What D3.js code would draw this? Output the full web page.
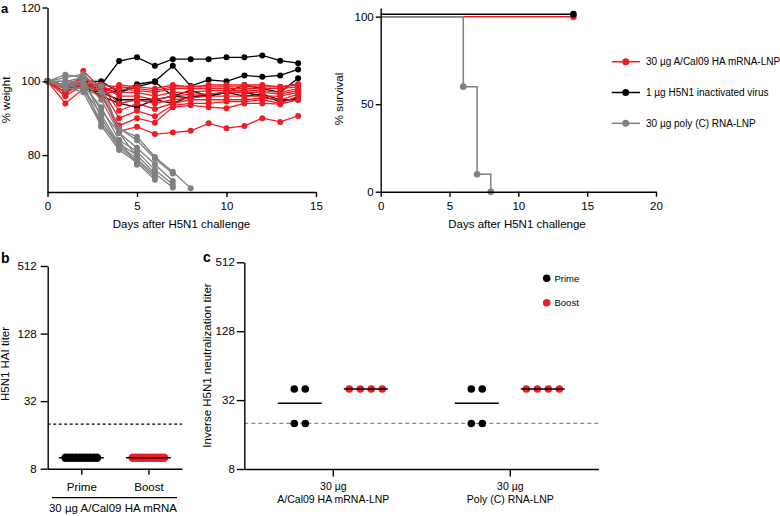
<!DOCTYPE html>
<html><head><meta charset="utf-8">
<script src="https://cdn.jsdelivr.net/npm/d3@7"></script>
<style>
body{margin:0;background:#fff;}
svg{display:block;font-family:"Liberation Sans",Arial,Helvetica,sans-serif;}
</style></head><body>
<svg id="chart" width="780" height="516"></svg>
<script>
// ---------- DATA ----------
const weightDays = [0,1,2,3,4,5,6,7,8,9,10,11,12,13,14];
// Panel a (left): % weight per mouse, 30 µg A/Cal09 HA mRNA-LNP
const weightMRNA = [
  [100, 97, 99, 97, 86.4, 87.7, 85.7, 86.1, 86.6, 88.6, 87.3, 87.9, 90, 89, 90.6],
  [100, 94, 98, 96, 88, 90, 88.8, 93, 93.5, 93, 92.7, 94, 94, 93.8, 95],
  [100, 96, 102.8, 98, 90, 92, 90.5, 93.5, 94, 94, 94.5, 94.5, 95, 94, 96],
  [100, 98, 101, 99, 92, 94, 92.5, 94, 95, 95, 95, 95, 95.5, 95, 96.5],
  [100, 99, 100, 98.5, 94, 95, 94, 95, 95.5, 96, 96, 96, 96, 96, 97],
  [100, 97, 99, 99, 96, 96, 95, 96, 96.5, 96.5, 97, 97, 97, 96.5, 97.5],
  [100, 98, 100, 97, 97, 97, 96, 97, 97, 97.5, 97.5, 97.5, 97.5, 97, 98],
  [100, 99, 101, 98, 98, 97.5, 97, 98, 98, 98, 98, 98, 98, 98, 98.5],
  [100, 96, 99, 99, 98.5, 98, 97.5, 98.5, 98.5, 98.5, 98.5, 98.5, 98.5, 98.5, 99],
  [100, 97, 100, 97, 99, 98.5, 98, 99, 98.5, 99, 99, 99, 99, 98.5, 99.3]
];
// 1 µg H5N1 inactivated virus
const weightInact = [
  [100, 99, 99, 99, 105.5, 106.5, 104.2, 106, 106, 106, 106.5, 106.5, 107, 105.6, 104.9],
  [100, 99, 100, 100, 97, 99.2, 100, 104.2, 98.7, 100.4, 100, 101.6, 101.2, 101.6, 103.2],
  [100, 98, 99, 98, 97, 98.5, 99.8, 96, 97.5, 96, 97, 99, 98, 97, 100.8],
  [100, 99, 98, 97, 95, 95, 95, 96, 95.5, 96.5, 97, 96, 96.5, 95, 95],
  [100, 98, 99, 96, 94, 93, 95, 94, 96, 96, 97, 97, 96, 94.5, 95.5]
];
// 30 µg poly (C) RNA-LNP
const weightPolyC = [
  [100, 101.8, 101, 98.7, 87, 85, 79.5, 75.5, 71],
  [100, 101, 102, 97, 87.3, 84, 79, 75],
  [100, 100, 100, 95, 86, 82, 77.5, 73],
  [100, 99, 99, 93, 84, 81, 76, 72],
  [100, 98, 98, 91, 83, 80, 75, 71.2],
  [100, 100, 101, 90, 82.5, 79, 74.5],
  [100, 99, 98, 89, 82, 78.5, 74],
  [100, 98.5, 97, 88, 81.4, 78, 73.3],
  [100, 100, 99.5, 87.7, 84, 77.4],
  [100, 99, 100, 92, 86, 79.5]
];
// Panel a (right): % survival
const survivalNames = ["30 µg A/Cal09 HA mRNA-LNP", "1 µg H5N1 inactivated virus", "30 µg poly (C) RNA-LNP"];
const survMRNADays = [0, 14];      const survMRNA = [100, 100];
const survInactDays = [0, 14];     const survInact = [100, 100];
const survPolyCDays = [0, 6, 7, 8]; const survPolyC = [100, 60, 10, 0];
// Panel b: H5N1 HAI titer
const haiGroups = ["Prime", "Boost"];
const haiPrime = [10,10,10,10,10,10,10,10,10,10];
const haiBoost = [10,10,10,10,10,10,10,10,10,10];
const haiLimit = 20;
// Panel c: inverse H5N1 neutralization titer
const neutGroups = ["30 µg|A/Cal09 HA mRNA-LNP", "30 µg|Poly (C) RNA-LNP"];
const neutPrime = [[40,40,20,20],[40,40,20,20]];
const neutBoost = [[40,40,40,40],[40,40,40,40]];
const neutLimit = 20;
const log2Ticks = [8, 32, 128, 512];

// ---------- STYLE ----------
const RED = "#ee1c25", BLACK = "#000", GRAY = "#808080";
const svg = d3.select("#chart");

function styleAxis(g, fs){
  g.selectAll("path.domain").attr("stroke","#000").attr("stroke-width",1.4);
  g.selectAll(".tick line").attr("stroke","#000").attr("stroke-width",1.4);
  g.selectAll(".tick text").attr("fill","#000").style("font-size",(fs||11.5)+"px")
    .style("font-family",'"Liberation Sans",Arial,sans-serif');
}
function label(txt, x, y, opts){
  opts = opts || {};
  const t = svg.append("text").text(txt)
    .attr("font-size", (opts.fs||11.5)+"px")
    .attr("font-weight", opts.bold ? "bold" : null)
    .attr("text-anchor", opts.anchor || "middle")
    .attr("fill","#000");
  if (opts.rot) t.attr("transform", `translate(${x},${y}) rotate(-90)`);
  else t.attr("x", x).attr("y", y);
  return t;
}

// ---------- PANEL a (weight) ----------
const xW = d3.scaleLinear().domain([0,15]).range([47.5,316]);
const yW = d3.scaleLinear().domain([70,120]).range([192,7.5]);
const lineW = d3.line().x((d,i)=>xW(weightDays[i])).y(d=>yW(d));
function drawWeight(series, color){
  const g = svg.append("g");
  series.forEach(s=>{
    g.append("path").attr("d", lineW(s)).attr("fill","none").attr("stroke",color).attr("stroke-width",1.3);
    g.selectAll(null).data(s).enter().append("circle")
      .attr("cx",(d,i)=>xW(weightDays[i])).attr("cy",d=>yW(d)).attr("r",3).attr("fill",color);
  });
}
drawWeight(weightInact, BLACK);
drawWeight(weightMRNA, RED);
drawWeight(weightPolyC, GRAY);
svg.append("g").attr("transform","translate(0,192)")
  .call(d3.axisBottom(xW).tickValues([0,5,10,15]).tickSize(5).tickPadding(5).tickSizeOuter(0)).call(styleAxis);
svg.append("g").attr("transform","translate(47.5,0)")
  .call(d3.axisLeft(yW).tickValues([80,100,120]).tickSize(5).tickPadding(2).tickSizeOuter(0)).call(styleAxis);
label("a", 1, 13, {bold:true, fs:13, anchor:"start"});
label("% weight", 10, 100, {rot:true});
label("Days after H5N1 challenge", 181.5, 228);

// ---------- PANEL a (survival) ----------
const xS = d3.scaleLinear().domain([0,20]).range([380.7,656]);
const yS = d3.scaleLinear().domain([0,105]).range([191.7,7.9]);
const survSets = [
  {days: survMRNADays, vals: survMRNA, color: RED, dy: 0},
  {days: survPolyCDays, vals: survPolyC, color: GRAY, dy: 0},
  {days: survInactDays, vals: survInact, color: BLACK, dy: -2.5}
];
const lineS = d3.line().curve(d3.curveStepAfter);
survSets.forEach(s=>{
  const pts = s.days.map((d,i)=>[xS(d), yS(s.vals[i]) + s.dy]);
  svg.append("path").attr("d", lineS(pts)).attr("fill","none").attr("stroke",s.color).attr("stroke-width",1.5);
  svg.selectAll(null).data(pts.slice(1)).enter().append("circle")
    .attr("cx",d=>d[0]).attr("cy",d=>d[1]).attr("r",3.3).attr("fill",s.color);
});
svg.append("g").attr("transform","translate(0,191.7)")
  .call(d3.axisBottom(xS).tickValues([0,5,10,15,20]).tickSize(5).tickPadding(5).tickSizeOuter(0)).call(styleAxis);
svg.append("g").attr("transform","translate(380.7,0)")
  .call(d3.axisLeft(yS).tickValues([0,50,100]).tickSize(5).tickPadding(2).tickSizeOuter(0)).call(styleAxis);
label("% survival", 343, 99, {rot:true});
label("Days after H5N1 challenge", 517, 228);
// legend
const legColors = [RED, BLACK, GRAY];
survivalNames.forEach((n,i)=>{
  const y = 61.7 + i*30.8;
  svg.append("line").attr("x1",611.7).attr("x2",640).attr("y1",y).attr("y2",y).attr("stroke",legColors[i]).attr("stroke-width",1.5);
  svg.append("circle").attr("cx",625.7).attr("cy",y).attr("r",3.5).attr("fill",legColors[i]);
  label(n, 646, y+3.6, {fs:10, anchor:"start"});
});

// ---------- PANEL b ----------
const yB = d3.scaleLog().base(2).domain([8,512]).range([468.7,266]);
const xB = d3.scalePoint().domain(haiGroups).range([47.7,182]).padding(0.5);
svg.append("line").attr("x1",47.7).attr("x2",182).attr("y1",yB(haiLimit)).attr("y2",yB(haiLimit))
  .attr("stroke","#000").attr("stroke-width",1.3).attr("stroke-dasharray","3,2.5");
[[haiPrime, BLACK, "Prime"], [haiBoost, RED, "Boost"]].forEach(([vals,color,grp])=>{
  const n = vals.length, sp = 3.5;
  svg.selectAll(null).data(vals).enter().append("circle")
    .attr("cx",(d,i)=>xB(grp) + (i-(n-1)/2)*sp).attr("cy",d=>yB(d)).attr("r",4.2).attr("fill",color);
  const m = d3.median(vals);
  svg.append("line").attr("x1",xB(grp)-22.5).attr("x2",xB(grp)+22.5).attr("y1",yB(m)).attr("y2",yB(m))
    .attr("stroke","#000").attr("stroke-width",1.5);
});
svg.append("g").attr("transform","translate(0,468.7)")
  .call(d3.axisBottom(xB).tickSize(6).tickPadding(8).tickSizeOuter(0)).call(styleAxis);
svg.append("g").attr("transform","translate(47.7,0)")
  .call(d3.axisLeft(yB).tickValues(log2Ticks).tickFormat(d3.format("d")).tickSize(7).tickPadding(4).tickSizeOuter(0)).call(styleAxis);
svg.append("line").attr("x1",52).attr("x2",177).attr("y1",497.7).attr("y2",497.7).attr("stroke","#000").attr("stroke-width",1.2);
label("30 µg A/Cal09 HA mRNA", 113, 511.5);
label("b", 1, 263, {bold:true, fs:14, anchor:"start"});
label("H5N1 HAI titer", 9, 364, {rot:true});

// ---------- PANEL c ----------
const yC = d3.scaleLog().base(2).domain([8,512]).range([469,262.3]);
const xC = d3.scalePoint().domain(neutGroups).range([244.3,598.3]).padding(0.5);
const xSub = d3.scalePoint().domain(["Prime","Boost"]).range([-33,33]);
svg.append("line").attr("x1",244.3).attr("x2",598.3).attr("y1",yC(neutLimit)).attr("y2",yC(neutLimit))
  .attr("stroke","#8a8a8a").attr("stroke-width",1.3).attr("stroke-dasharray","4,3");
neutGroups.forEach((grp,gi)=>{
  [[neutPrime[gi], BLACK, "Prime"], [neutBoost[gi], RED, "Boost"]].forEach(([vals,color,sub])=>{
    const cx0 = xC(grp) + xSub(sub);
    const byVal = d3.group(vals, d=>d);
    byVal.forEach((arr,v)=>{
      const n = arr.length, sp = 11;
      arr.forEach((d,i)=>{
        svg.append("circle").attr("cx", cx0 + (i-(n-1)/2)*sp).attr("cy", yC(d)).attr("r",3.8).attr("fill",color);
      });
    });
    const m = d3.median(vals);
    svg.append("line").attr("x1",cx0-22).attr("x2",cx0+22).attr("y1",yC(m)).attr("y2",yC(m))
      .attr("stroke","#000").attr("stroke-width",1.5);
  });
});
const axC = svg.append("g").attr("transform","translate(0,469)")
  .call(d3.axisBottom(xC).tickSize(7.5).tickPadding(6).tickSizeOuter(0)).call(styleAxis);
axC.selectAll(".tick text").each(function(d){
  const t = d3.select(this); const parts = d.split("|");
  t.text(null).style("font-size","10.5px");
  parts.forEach((p,i)=>t.append("tspan").attr("x",0).attr("dy", i===0 ? "0.71em" : "1.24em").text(p));
});
svg.append("g").attr("transform","translate(244.3,0)")
  .call(d3.axisLeft(yC).tickValues(log2Ticks).tickFormat(d3.format("d")).tickSize(7.5).tickPadding(2).tickSizeOuter(0)).call(styleAxis);
label("c", 203, 262, {bold:true, fs:14, anchor:"start"});
label("Inverse H5N1 neutralization titer", 211, 365.5, {rot:true});
// legend c
[["Prime", BLACK], ["Boost", RED]].forEach(([n,c],i)=>{
  const y = 278.3 + i*24.4;
  svg.append("circle").attr("cx",546.7).attr("cy",y).attr("r",3.8).attr("fill",c);
  label(n, 554.5, y+3.4, {fs:9.5, anchor:"start"});
});
</script>
</body></html>
